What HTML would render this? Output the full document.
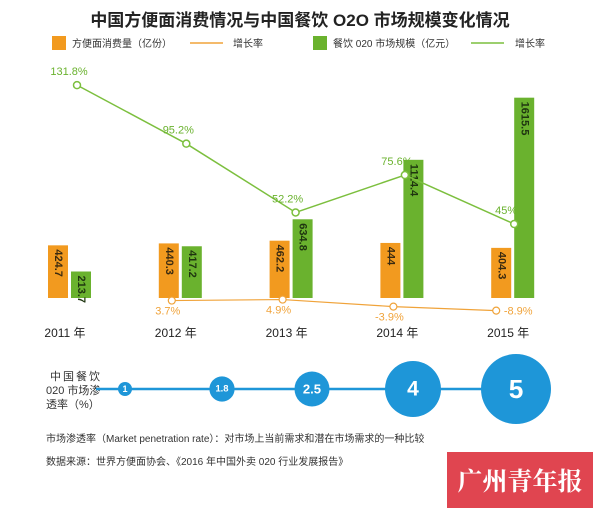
<!DOCTYPE html>
<html><head><meta charset="utf-8"><style>
body{margin:0;background:#fff;width:600px;height:515px;overflow:hidden;font-family:"Liberation Sans","Noto Sans CJK SC",sans-serif;}
</style></head><body>
<svg id="c" width="600" height="515" xmlns="http://www.w3.org/2000/svg" style="font-family:'Liberation Sans','Noto Sans CJK SC',sans-serif">
<text x="300" y="26" text-anchor="middle" font-size="17" font-weight="bold" fill="#222">中国方便面消费情况与中国餐饮 O2O 市场规模变化情况</text>
<g font-size="10" fill="#333">
<rect x="52" y="36" width="14" height="14" fill="#f29a1f"/>
<text x="72" y="47">方便面消费量（亿份）</text>
<line x1="190" y1="43" x2="223" y2="43" stroke="#f0a33a" stroke-width="1.5"/>
<text x="233" y="47">增长率</text>
<rect x="313" y="36" width="14" height="14" fill="#6ab22e"/>
<text x="333" y="47">餐饮 020 市场规模（亿元）</text>
<line x1="471" y1="43" x2="504" y2="43" stroke="#7cbf3e" stroke-width="1.5"/>
<text x="515" y="47">增长率</text>
</g>
<g id="plot"></g>
<g>
<text x="50" y="380" font-size="11" fill="#333" letter-spacing="2">中国餐饮</text>
<text x="46" y="394" font-size="11" fill="#333">020 市场渗</text>
<text x="46" y="408" font-size="11" fill="#333">透率（%）</text>
<line x1="96" y1="389" x2="490" y2="389" stroke="#1e96d8" stroke-width="2.5"/>
<g id="pen"></g>
</g>
<text x="46" y="442" font-size="10" fill="#333">市场渗透率（Market penetration rate）：对市场上当前需求和潜在市场需求的一种比较</text>
<text x="46" y="465" font-size="10" fill="#333">数据来源：世界方便面协会、《2016 年中国外卖 020 行业发展报告》</text>
<rect x="447" y="452" width="146" height="56" fill="#e04550"/>
<text x="520" y="490" text-anchor="middle" font-size="25" font-weight="bold" fill="#fff" font-family="'Noto Serif CJK SC',serif">广州青年报</text>
</svg>
<script>
const years=["2011 年","2012 年","2013 年","2014 年","2015 年"];
const noodle=[424.7,440.3,462.2,444,404.3];
const noodleGrowth=[null,3.7,4.9,-3.9,-8.9];
const noodleGrowthLabels=["","3.7%","4.9%","-3.9%","-8.9%"];
const o2o=[213.7,417.2,634.8,1114.4,1615.5];
const o2oGrowth=[131.8,95.2,52.2,75.6,45];
const o2oGrowthLabels=["131.8%","95.2%","52.2%","75.6%","45%"];
const pen=[1,1.8,2.5,4,5];
const NS="http://www.w3.org/2000/svg";
const plot=document.getElementById('plot');
function mk(t,a,p){const e=document.createElementNS(NS,t);for(const k in a)e.setAttribute(k,a[k]);(p||plot).appendChild(e);return e;}
const base=298;
function xc(i){return 57+i*110.8;}
function yb(v){return base-v*0.124;}
function yg(v){return 296-v*1.6;}
function yo(v){return 303.5-v*0.8;}
years.forEach((y,i)=>{
 const o=mk('rect',{x:xc(i)-9,y:yb(noodle[i]),width:20,height:base-yb(noodle[i]),fill:'#f29a1f'});
 
 
 const ox=xc(i)+1, oy=yb(noodle[i])+4;
 const ot=mk('text',{x:ox,y:oy,transform:`rotate(90 ${ox} ${oy})`,'font-size':11,'font-weight':'bold',fill:'#3a2a10','dominant-baseline':'middle'});ot.textContent=noodle[i];
 
 
 const gx=xc(i)+14;
 const g=mk('rect',{x:gx,y:yb(o2o[i]),width:20,height:base-yb(o2o[i]),fill:'#6ab22e'});
 
 
 const tx=gx+10, ty=yb(o2o[i])+4;
 const gt=mk('text',{x:tx,y:ty,transform:`rotate(90 ${tx} ${ty})`,'font-size':11,'font-weight':'bold',fill:'#1f3510','dominant-baseline':'middle'});gt.textContent=o2o[i];
 
 
 const yl=mk('text',{x:xc(i)+8,y:337,'text-anchor':'middle','font-size':12,fill:'#222'});yl.textContent=y;
 
 
});
let gp=o2oGrowth.map((v,i)=>[77+i*109.3,yg(v)]);
const gl=mk('polyline',{points:gp.map(p=>p.join(',')).join(' '),fill:'none',stroke:'#7cbf3e','stroke-width':1.5});


gp.forEach((p,i)=>{
 const c=mk('circle',{cx:p[0],cy:p[1],r:3.5,fill:'#fff',stroke:'#7cbf3e','stroke-width':1.5});
 
 
 const t=mk('text',{x:p[0]-8,y:p[1]-10,'text-anchor':'middle','font-size':11,fill:'#6ab22e'});t.textContent=o2oGrowthLabels[i];
 
 
});
let op=[];noodleGrowth.forEach((v,i)=>{if(v!==null)op.push([xc(i)+4+(i==4?-8:0),yo(v),i]);});
const ol=mk('polyline',{points:op.map(p=>p[0]+','+p[1]).join(' '),fill:'none',stroke:'#f0a33a','stroke-width':1.2});


op.forEach(p=>{
 const c=mk('circle',{cx:p[0],cy:p[1],r:3.5,fill:'#fff',stroke:'#f0a33a','stroke-width':1.2});
 
 
 const lx=p[2]==4?p[0]+22:p[0]-4, ly=p[2]==4?p[1]+4:p[1]+14;
 const t=mk('text',{x:lx,y:ly,'text-anchor':'middle','font-size':11,fill:'#f0a33a'});t.textContent=noodleGrowthLabels[p[2]];
 
 
});
const penG=document.getElementById('pen');
const px=[125,222,312,413,516];
pen.forEach((v,i)=>{
 const r=v*7;
 const c=mk('circle',{cx:px[i],cy:389,r:r,fill:'#1e96d8'},penG);
 
 
 const t=mk('text',{x:px[i],y:389,'text-anchor':'middle','dominant-baseline':'central','font-size':Math.max(9,r*0.75),'font-weight':'bold',fill:'#fff'},penG);t.textContent=v;
 
 
});
</script>
</body></html>
